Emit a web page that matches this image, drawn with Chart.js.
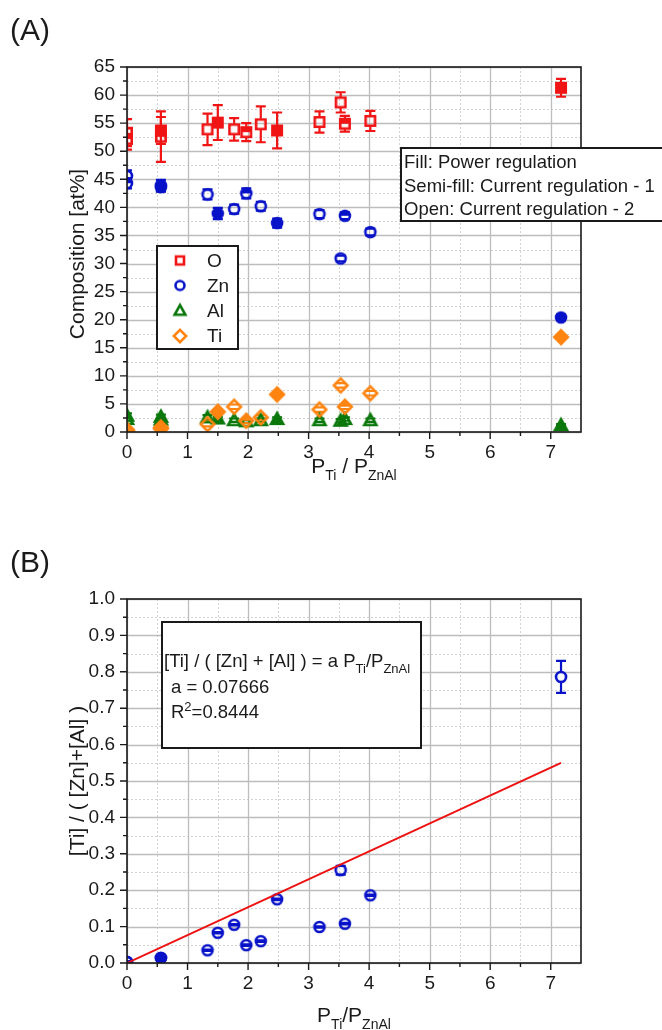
<!DOCTYPE html>
<html>
<head>
<meta charset="utf-8">
<script src="https://cdn.jsdelivr.net/npm/chart.js@4.4.1/dist/chart.umd.min.js"></script>
<style>
  html, body { margin: 0; padding: 0; background: #fff; }
  #wrap { position: relative; width: 662px; height: 1030px; overflow: hidden; background: #fff; }
  canvas { position: absolute; left: 0; display: block; }
</style>
</head>
<body>
<div id="wrap">
  <canvas id="chartA" width="662" height="515" style="top:0"></canvas>
  <canvas id="chartB" width="662" height="515" style="top:515px"></canvas>
</div>
<script>
// ---------- data ----------
// sputtering power ratio P_Ti / P_ZnAl of each film
const powerRatio = [0, 0, 0.56, 0.56, 1.33, 1.5, 1.77, 1.97, 2.21, 2.48, 3.18, 3.53, 3.6, 4.02, 7.17];
// marker fill per film: filled = power regulation, semi = current regulation 1, open = current regulation 2
const fillA = ['open', 'semi', 'filled', 'semi', 'open', 'filled', 'open', 'semi', 'open', 'filled', 'open', 'open', 'semi', 'open', 'filled'];

// composition in at%
const oxygen    = [53.3, 52.2, 53.7, 52.6, 53.9, 55.1, 53.9, 53.4, 54.8, 53.7, 55.2, 58.7, 54.9, 55.4, 61.3];
const oxygenErr = [2.4, 1.9, 2.4, 4.5, 2.8, 3.1, 2.0, 1.6, 3.2, 3.2, 1.9, 1.8, 1.4, 1.8, 1.6];
const zinc      = [45.6, 44.3, 43.9, 43.6, 42.3, 38.9, 39.7, 42.5, 40.2, 37.2, 38.8, 30.9, 38.5, 35.6, 20.4];
const zincErr   = [1.0, 0.9, 1.0, 0.8, 0.9, 1.0, 0.8, 0.9, 0.8, 0.8, 0.7, 0.5, 0.6, 0.6, 0.5];
const aluminium = [2.9, 2.3, 2.7, 2.2, 2.6, 2.4, 2.1, 1.9, 2.1, 2.3, 2.1, 2.0, 2.3, 2.1, 1.2];
const alErr     = [0.4, 0.3, 0.4, 0.3, 0.4, 0.3, 0.3, 0.3, 0.3, 0.3, 0.3, 0.3, 0.3, 0.3, 0.2];
const titanium  = [0.4, 0.2, 0.6, 0.8, 1.4, 3.6, 4.5, 2.0, 2.6, 6.7, 4.0, 8.3, 4.5, 6.9, 16.9];
const tiErr     = [0.3, 0.2, 0.3, 0.3, 0.4, 0.4, 0.4, 0.4, 0.4, 0.3, 0.4, 0.4, 0.4, 0.4, 0.3];

// [Ti] / ([Zn] + [Al])
const tiRatio    = [0.003, 0.003, 0.014, 0.014, 0.035, 0.083, 0.105, 0.049, 0.060, 0.175, 0.099, 0.255, 0.108, 0.186, 0.786];
const tiRatioErr = [0.002, 0.002, 0.002, 0.002, 0.002, 0.002, 0.002, 0.002, 0.002, 0.002, 0.002, 0.012, 0.002, 0.002, 0.044];
const fillB = ['open', 'open', 'filled', 'filled', 'open', 'open', 'open', 'open', 'open', 'open', 'open', 'open', 'open', 'open', 'open'];

// linear fit through the origin
const fitSlope = 0.07666;
const fitR2 = 0.8444;
const fitRange = [0, 7.17];

// axes
const xLimits = [0, 7.5];
const xMajorTicks = [0, 1, 2, 3, 4, 5, 6, 7];
const xMinorTicks = [0.5, 1.5, 2.5, 3.5, 4.5, 5.5, 6.5];
const yLimitsA = [0, 65];
const yMajorTicksA = [0, 5, 10, 15, 20, 25, 30, 35, 40, 45, 50, 55, 60, 65];
const yMinorTicksA = [2.5, 7.5, 12.5, 17.5, 22.5, 27.5, 32.5, 37.5, 42.5, 47.5, 52.5, 57.5, 62.5];
const yLimitsB = [0, 1];
const yMajorTicksB = [0, 0.1, 0.2, 0.3, 0.4, 0.5, 0.6, 0.7, 0.8, 0.9, 1.0];
const yMinorTicksB = [0.05, 0.15, 0.25, 0.35, 0.45, 0.55, 0.65, 0.75, 0.85, 0.95];

const seriesNames = ['O', 'Zn', 'Al', 'Ti'];
const regulationNotes = ['Fill: Power regulation', 'Semi-fill: Current regulation - 1', 'Open: Current regulation - 2'];

// ---------- styling ----------
const FONT = '"Liberation Sans", Arial, Helvetica, sans-serif';
const RED = '#f01414', BLUE = '#0812c8', GREEN = '#0b780b', ORANGE = '#ff8410';
const INK = '#1a1a1a';

// marker sprite: open / semi-filled / filled symbol
function marker(shape, color, fill, k = 1) {
  const s = 22, m = s / 2;
  const c = document.createElement('canvas');
  c.width = c.height = s;
  const g = c.getContext('2d');
  function path() {
    g.beginPath();
    if (shape === 'square') { const h = 4.7 * k; g.rect(m - h, m - h, 2 * h, 2 * h); }
    else if (shape === 'circle') g.arc(m, m, 5.0 * k, 0, Math.PI * 2);
    else if (shape === 'triangle') { const h = 6.0 * k; g.moveTo(m, m - h); g.lineTo(m + h, m + 0.8 * h); g.lineTo(m - h, m + 0.8 * h); g.closePath(); }
    else { const h = 6.8 * k; g.moveTo(m, m - h); g.lineTo(m + h, m); g.lineTo(m, m + h); g.lineTo(m - h, m); g.closePath(); }
  }
  g.lineWidth = 2.6; g.strokeStyle = color; g.fillStyle = color; g.lineJoin = 'miter';
  if (fill === 'filled') { path(); g.fill(); }
  else if (fill === 'semi') { g.save(); g.beginPath(); g.rect(0, 0, s, m); g.clip(); path(); g.fill(); g.restore(); }
  path(); g.stroke();
  return c;
}

// rich text with sub/superscripts: parts = [[text, 0|1|2]] (normal, sub, sup)
function richText(ctx, x, y, parts, size, align) {
  const fontOf = mode => (mode ? Math.round(size * 0.68) : size) + 'px ' + FONT;
  const widths = parts.map(([t, mode]) => { ctx.font = fontOf(mode); return ctx.measureText(t).width; });
  const total = widths.reduce((a, b) => a + b, 0);
  let cx = align === 'center' ? x - total / 2 : x;
  ctx.textAlign = 'left';
  parts.forEach(([t, mode], i) => {
    ctx.font = fontOf(mode);
    const dy = mode === 1 ? size * 0.32 : mode === 2 ? -size * 0.36 : 0;
    ctx.fillText(t, cx, y + dy);
    cx += widths[i];
  });
}

// grid, frame and axis tick marks
function framePlugin(yMajor, yMinor) {
  return {
    id: 'frame',
    beforeDatasetsDraw(chart) {
      const { ctx, chartArea: a, scales: { x, y } } = chart;
      ctx.save();
      ctx.lineWidth = 1;
      ctx.strokeStyle = '#d2d2d2';
      ctx.setLineDash([2, 2]);
      ctx.beginPath();
      xMinorTicks.forEach(v => { const p = Math.round(x.getPixelForValue(v)) + 0.5; ctx.moveTo(p, a.top); ctx.lineTo(p, a.bottom); });
      yMinor.forEach(v => { const p = Math.round(y.getPixelForValue(v)) + 0.5; ctx.moveTo(a.left, p); ctx.lineTo(a.right, p); });
      ctx.stroke();
      ctx.setLineDash([]);
      ctx.strokeStyle = '#bdbdbd';
      ctx.lineWidth = 1.3;
      ctx.beginPath();
      xMajorTicks.forEach(v => { const p = Math.round(x.getPixelForValue(v)) + 0.5; ctx.moveTo(p, a.top); ctx.lineTo(p, a.bottom); });
      yMajor.forEach(v => { const p = Math.round(y.getPixelForValue(v)) + 0.5; ctx.moveTo(a.left, p); ctx.lineTo(a.right, p); });
      ctx.stroke();
      ctx.restore();
    },
    afterDraw(chart) {
      const { ctx, chartArea: a, scales: { x, y } } = chart;
      ctx.save();
      ctx.strokeStyle = INK;
      ctx.lineWidth = 1.6;
      ctx.strokeRect(a.left, a.top, a.right - a.left, a.bottom - a.top);
      ctx.lineWidth = 1.4;
      ctx.beginPath();
      xMajorTicks.forEach(v => { const p = x.getPixelForValue(v); ctx.moveTo(p, a.bottom); ctx.lineTo(p, a.bottom + 7); });
      xMinorTicks.forEach(v => { const p = x.getPixelForValue(v); ctx.moveTo(p, a.bottom); ctx.lineTo(p, a.bottom + 4); });
      yMajor.forEach(v => { const p = y.getPixelForValue(v); ctx.moveTo(a.left, p); ctx.lineTo(a.left - 7, p); });
      yMinor.forEach(v => { const p = y.getPixelForValue(v); ctx.moveTo(a.left, p); ctx.lineTo(a.left - 4, p); });
      ctx.stroke();
      ctx.restore();
    }
  };
}

// vertical error bars drawn under the symbols, leaving the symbol interior free
const errorBarPlugin = {
  id: 'errorBars',
  beforeDatasetsDraw(chart) {
    const { ctx, chartArea: a, scales: { x, y } } = chart;
    ctx.save();
    ctx.beginPath();
    ctx.rect(a.left, a.top, a.right - a.left, a.bottom - a.top);
    ctx.clip();
    chart.data.datasets.forEach(ds => {
      if (!ds.errors) return;
      ctx.strokeStyle = ds.errColor;
      ctx.lineWidth = 2.2;
      ds.data.forEach((p, i) => {
        const e = ds.errors[i];
        const px = x.getPixelForValue(p.x);
        const yc = y.getPixelForValue(p.y);
        const yTop = y.getPixelForValue(p.y + e);
        const yBot = y.getPixelForValue(p.y - e);
        const gap = ds.markerGap;
        ctx.beginPath();
        if (yc - yTop > gap) { ctx.moveTo(px, yc - gap); ctx.lineTo(px, yTop); }
        if (yBot - yc > gap) { ctx.moveTo(px, yc + gap); ctx.lineTo(px, yBot); }
        ctx.moveTo(px - 5, yTop); ctx.lineTo(px + 5, yTop);
        ctx.moveTo(px - 5, yBot); ctx.lineTo(px + 5, yBot);
        ctx.stroke();
      });
    });
    ctx.restore();
  }
};

function axisX(height) {
  return {
    type: 'linear', min: xLimits[0], max: xLimits[1],
    afterBuildTicks: s => { s.ticks = xMajorTicks.map(v => ({ value: v })); },
    afterFit: s => { s.height = height; },
    grid: { display: false, drawTicks: false },
    border: { display: false },
    ticks: { padding: 9, color: INK, autoSkip: false, maxRotation: 0, font: { family: FONT, size: 19 }, callback: v => String(v) }
  };
}
function axisY(limits, ticks, fmt) {
  return {
    type: 'linear', min: limits[0], max: limits[1],
    afterBuildTicks: s => { s.ticks = ticks.map(v => ({ value: v })); },
    afterFit: s => { s.width = 127; },
    grid: { display: false, drawTicks: false },
    border: { display: false },
    ticks: { padding: 12, color: INK, autoSkip: false, font: { family: FONT, size: 19 }, callback: fmt }
  };
}

function series(label, xs, values, errs, shape, color, fills, order) {
  const sprites = fills.map(f => marker(shape, color, f));
  return {
    label, order, clip: 0,
    data: xs.map((x, i) => ({ x, y: values[i] })),
    pointStyle: ctx => sprites[ctx.dataIndex],
    pointRadius: 6,
    errors: errs, errColor: color, markerGap: shape === 'diamond' ? 6.5 : 5.5
  };
}

const baseOptions = {
  responsive: false, animation: false, events: [],
  plugins: { legend: { display: false }, tooltip: { enabled: false } }
};

// ---------- panel A annotations ----------
const panelAText = {
  id: 'panelAText',
  afterDraw(chart) {
    const { ctx, chartArea: a } = chart;
    ctx.save();
    ctx.fillStyle = INK;
    ctx.textBaseline = 'alphabetic';
    ctx.font = '30px ' + FONT;
    ctx.fillText('(A)', 10, 40);

    // y axis title
    ctx.save();
    ctx.translate(84, 254);
    ctx.rotate(-Math.PI / 2);
    ctx.font = '21px ' + FONT;
    ctx.textAlign = 'center';
    ctx.fillText('Composition [at%]', 0, 0);
    ctx.restore();

    // x axis title
    richText(ctx, (a.left + a.right) / 2, 473, [['P', 0], ['Ti', 1], [' / P', 0], ['ZnAl', 1]], 21, 'center');

    // symbol key
    ctx.fillStyle = '#fff';
    ctx.fillRect(157, 246, 81, 103);
    ctx.strokeStyle = INK; ctx.lineWidth = 2;
    ctx.strokeRect(157, 246, 81, 103);
    const keys = [['square', RED, 0.85], ['circle', BLUE, 0.9], ['triangle', GREEN, 0.9], ['diamond', ORANGE, 0.9]];
    const rows = [260.5, 285.5, 310.5, 336];
    ctx.font = '19px ' + FONT;
    ctx.textBaseline = 'middle';
    keys.forEach(([shape, color, k], i) => {
      const m = marker(shape, color, 'open', k);
      ctx.drawImage(m, 180 - m.width / 2, rows[i] - m.height / 2);
      ctx.fillStyle = INK;
      ctx.fillText(seriesNames[i], 207, rows[i] + 1);
    });

    // regulation note
    ctx.fillStyle = '#fff';
    ctx.fillRect(401, 148, 270, 73);
    ctx.strokeRect(401, 148, 270, 73);
    ctx.fillStyle = INK;
    ctx.font = '18.5px ' + FONT;
    [162, 185.5, 209].forEach((yy, i) => ctx.fillText(regulationNotes[i], 404, yy + 1));
    ctx.restore();
  }
};

// ---------- panel B annotations ----------
const panelBText = {
  id: 'panelBText',
  afterDraw(chart) {
    const { ctx, chartArea: a } = chart;
    ctx.save();
    ctx.fillStyle = INK;
    ctx.textBaseline = 'alphabetic';
    ctx.font = '30px ' + FONT;
    ctx.fillText('(B)', 10, 57);

    ctx.save();
    ctx.translate(84, (a.top + a.bottom) / 2);
    ctx.rotate(-Math.PI / 2);
    ctx.font = '21px ' + FONT;
    ctx.textAlign = 'center';
    ctx.fillText('[Ti] / ( [Zn]+[Al] )', 0, 0);
    ctx.restore();

    richText(ctx, (a.left + a.right) / 2, 507, [['P', 0], ['Ti', 1], ['/P', 0], ['ZnAl', 1]], 21, 'center');

    // fit result box
    ctx.fillStyle = '#fff';
    ctx.fillRect(162, 107, 259, 126);
    ctx.strokeStyle = INK; ctx.lineWidth = 2;
    ctx.strokeRect(162, 107, 259, 126);
    ctx.fillStyle = INK;
    richText(ctx, 164, 152, [['[Ti] / ( [Zn] + [Al] ) = a P', 0], ['Ti', 1], ['/P', 0], ['ZnAl', 1]], 18.5, 'left');
    richText(ctx, 171, 178, [['a = ' + fitSlope, 0]], 18.5, 'left');
    richText(ctx, 171, 203, [['R', 0], ['2', 2], ['=' + fitR2, 0]], 18.5, 'left');
    ctx.restore();
  }
};

// ---------- charts ----------
new Chart(document.getElementById('chartA'), {
  type: 'scatter',
  data: {
    datasets: [
      series('O', powerRatio, oxygen, oxygenErr, 'square', RED, fillA, 3),
      series('Zn', powerRatio, zinc, zincErr, 'circle', BLUE, fillA, 2),
      series('Al', powerRatio, aluminium, alErr, 'triangle', GREEN, fillA, 1),
      series('Ti', powerRatio, titanium, tiErr, 'diamond', ORANGE, fillA, 0)
    ]
  },
  options: Object.assign({}, baseOptions, {
    layout: { padding: { left: 0, top: 67, right: 81, bottom: 0 } },
    scales: { x: axisX(515 - 432), y: axisY(yLimitsA, yMajorTicksA, v => String(v)) }
  }),
  plugins: [framePlugin(yMajorTicksA, yMinorTicksA), errorBarPlugin, panelAText]
});

new Chart(document.getElementById('chartB'), {
  type: 'scatter',
  data: {
    datasets: [
      {
        type: 'line', label: 'fit', order: -1, clip: 0,
        data: fitRange.map(x => ({ x, y: fitSlope * x })),
        borderColor: '#ee1111', borderWidth: 2, pointRadius: 0, showLine: true, fill: false
      },
      series('Ti/(Zn+Al)', powerRatio, tiRatio, tiRatioErr, 'circle', BLUE, fillB, 1)
    ]
  },
  options: Object.assign({}, baseOptions, {
    layout: { padding: { left: 0, top: 84, right: 81, bottom: 0 } },
    scales: { x: axisX(515 - 448), y: axisY(yLimitsB, yMajorTicksB, v => v.toFixed(1)) }
  }),
  plugins: [framePlugin(yMajorTicksB, yMinorTicksB), errorBarPlugin, panelBText]
});
</script>
</body>
</html>
